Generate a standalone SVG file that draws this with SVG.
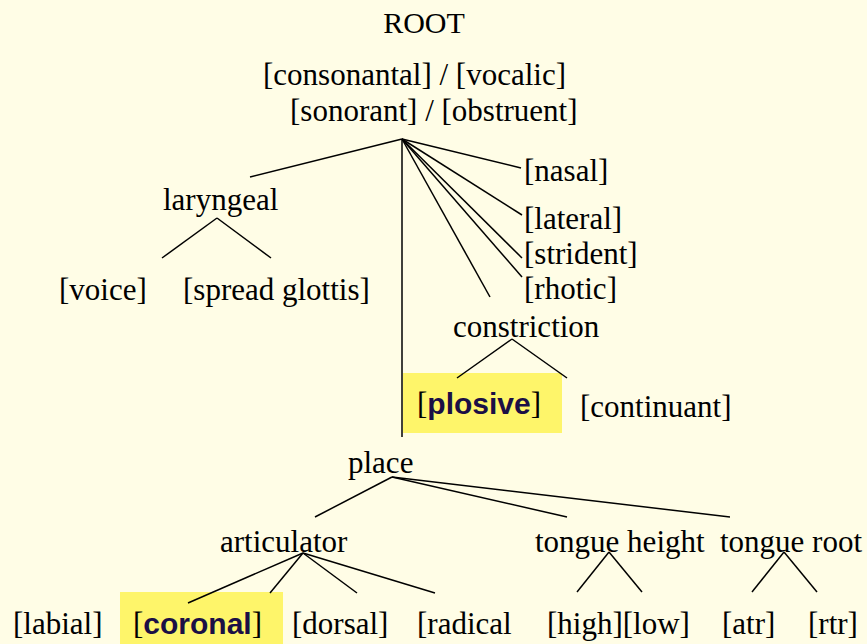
<svg xmlns="http://www.w3.org/2000/svg" width="867" height="644" viewBox="0 0 867 644">
<style>
.t{font-family:"Liberation Serif","Times New Roman",serif;font-size:31px;fill:#000}
.b{font-family:"Liberation Sans",Arial,sans-serif;font-size:30px;font-weight:bold;fill:#1b0f45}
.hl{fill:#fef56a}
.c line{stroke:#000;stroke-width:1.5}
</style>
<rect width="867" height="644" fill="#fffde6"/>
<g id="root"><text class="t" x="424" y="33" text-anchor="middle" style="font-size:30px">ROOT</text></g>
<g id="features"><text class="t" x="263" y="85">[consonantal] / [vocalic]</text><text class="t" x="290" y="121">[sonorant] / [obstruent]</text></g>
<g id="laryngeal"><text class="t" x="163" y="210">laryngeal</text></g>
<g id="voice"><text class="t" x="59" y="300">[voice]</text></g>
<g id="spread"><text class="t" x="183" y="300">[spread glottis]</text></g>
<g id="nasal"><text class="t" x="524" y="181">[nasal]</text></g>
<g id="lateral"><text class="t" x="524" y="229">[lateral]</text></g>
<g id="strident"><text class="t" x="524" y="264">[strident]</text></g>
<g id="rhotic"><text class="t" x="524" y="299">[rhotic]</text></g>
<g id="constriction"><text class="t" x="453" y="337">constriction</text></g>
<g id="plosive"><rect class="hl" x="403" y="373" width="159" height="60"/><text x="417" y="414"><tspan class="t">[</tspan><tspan class="b">plosive</tspan><tspan class="t">]</tspan></text></g>
<g id="continuant"><text class="t" x="580" y="417">[continuant]</text></g>
<g id="place"><text class="t" x="348" y="473">place</text></g>
<g id="articulator"><text class="t" x="220" y="552">articulator</text></g>
<g id="tongueheight"><text class="t" x="535" y="552">tongue height</text></g>
<g id="tongueroot"><text class="t" x="720" y="552">tongue root</text></g>
<g id="labial"><text class="t" x="13" y="634">[labial]</text></g>
<g id="coronal"><rect class="hl" x="120" y="592" width="163" height="52"/><text x="133" y="634"><tspan class="t">[</tspan><tspan class="b">coronal</tspan><tspan class="t">]</tspan></text></g>
<g id="dorsal"><text class="t" x="292" y="634">[dorsal]</text></g>
<g id="radical"><text class="t" x="417" y="634">[radical</text></g>
<g id="highlow"><text class="t" x="547" y="634">[high][low]</text></g>
<g id="atr"><text class="t" x="722" y="634">[atr]</text></g>
<g id="rtr"><text class="t" x="808" y="634">[rtr]</text></g>
<g id="connectors" class="c">
<line x1="402" y1="139" x2="250" y2="177"/>
<line x1="402" y1="139" x2="521" y2="168"/>
<line x1="402" y1="139" x2="522" y2="215"/>
<line x1="402" y1="139" x2="522" y2="258"/>
<line x1="402" y1="139" x2="522" y2="277"/>
<line x1="402" y1="139" x2="490" y2="297"/>
<line x1="402" y1="139" x2="402" y2="437"/>
<line x1="217" y1="218" x2="162" y2="258"/>
<line x1="217" y1="218" x2="271" y2="258"/>
<line x1="512" y1="339" x2="457" y2="378"/>
<line x1="512" y1="339" x2="567" y2="378"/>
<line x1="392" y1="477" x2="315" y2="517"/>
<line x1="392" y1="477" x2="567" y2="517"/>
<line x1="392" y1="477" x2="730" y2="517"/>
<line x1="303" y1="553" x2="188" y2="603"/>
<line x1="303" y1="553" x2="270" y2="593"/>
<line x1="303" y1="553" x2="357" y2="593"/>
<line x1="303" y1="553" x2="435" y2="593"/>
<line x1="609" y1="552" x2="577" y2="592"/>
<line x1="609" y1="552" x2="642" y2="592"/>
<line x1="784" y1="552" x2="752" y2="592"/>
<line x1="784" y1="552" x2="817" y2="592"/>
</g>
</svg>
